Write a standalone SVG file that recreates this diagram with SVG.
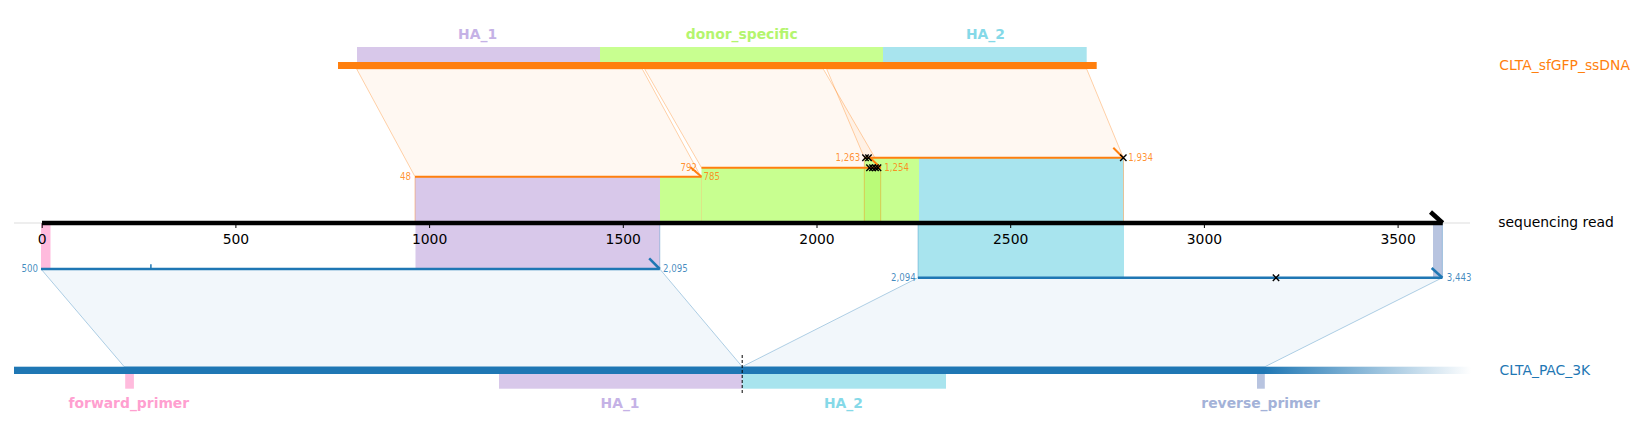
<svg xmlns="http://www.w3.org/2000/svg" width="1641" height="437" viewBox="0 0 1641 437">
<defs>
<linearGradient id="fade" x1="1264" y1="0" x2="1471" y2="0" gradientUnits="userSpaceOnUse">
<stop offset="0" stop-color="#1f77b4" stop-opacity="1"/>
<stop offset="1" stop-color="#1f77b4" stop-opacity="0"/>
</linearGradient>
<path id="xm" d="M-3.2,-3.2 L3.2,3.2 M-3.2,3.2 L3.2,-3.2" stroke="#000" stroke-width="1.4" fill="none"/>
</defs>
<style>
text{font-family:"DejaVu Sans","Liberation Sans",sans-serif}
.big{font-size:13.9px}
.feat{font-size:13.9px;font-weight:bold;text-anchor:middle}
.num{font-size:9.6px;font-stretch:condensed}
.onum{fill:#ff7f0e;fill-opacity:.85}
.bnum{fill:#1f77b4;fill-opacity:.85}
.opoly{fill:#ff7f0e;fill-opacity:.055;stroke:#ff7f0e;stroke-opacity:.35;stroke-width:1}
.bpoly{fill:#1f77b4;fill-opacity:.06;stroke:#1f77b4;stroke-opacity:.35;stroke-width:1}
.oedge{stroke:#ff7f0e;stroke-opacity:.4;stroke-width:1}
.bedge{stroke:#1f77b4;stroke-opacity:.35;stroke-width:1}
.oline{stroke:#ff7f0e;stroke-width:2;fill:none}
.bline{stroke:#1f77b4;stroke-width:2.5;fill:none}
.ha1{fill:#d8c8ea}.don{fill:#c8ff90}.ha2{fill:#a8e4ee}.fwd{fill:#ffbbdd}.rev{fill:#b8c4e0}
.tick{stroke:#000;stroke-width:1}
.tl{font-size:13.9px;text-anchor:middle;fill:#000}
</style>

<g id="connectors">
<polygon class="opoly" points="356.7,69 642.3,69 701,176.7 415,176.7"/>
<polygon class="opoly" points="644.7,69 823.3,69 880.7,167.7 701.5,167.7"/>
<polygon class="opoly" points="826.7,69 1086.7,69 1123.3,157.7 864.3,157.7"/>
<polygon class="bpoly" points="41,269 659.8,269 742.2,366.7 124.2,366.7"/>
<polygon class="bpoly" points="918,277.7 1442.4,277.7 1265,366.7 742.2,366.7"/>
</g>

<g id="donor-alignment-1">
<rect class="ha1" x="415" y="176.7" width="245" height="46.3"/>
<rect class="don" x="660" y="176.7" width="41.5" height="46.3"/>
<line class="oedge" x1="415" y1="176.7" x2="415" y2="223"/>
<line class="oedge" x1="701.5" y1="176.7" x2="701.5" y2="223"/>
</g>
<g id="donor-alignment-2">
<rect class="don" x="701.5" y="167.7" width="179.2" height="55.3"/>
</g>
<g id="donor-alignment-3">
<rect class="don" x="864.3" y="157.7" width="54.7" height="65.3"/>
<rect class="ha2" x="919" y="157.7" width="204.5" height="65.3"/>
<rect x="864.3" y="167.7" width="16.4" height="55.3" fill="#bafb78"/>
<line class="oedge" x1="864.3" y1="157.7" x2="864.3" y2="223"/>
<line class="oedge" x1="880.7" y1="167.7" x2="880.7" y2="223"/>
<line class="oedge" x1="1123.5" y1="157.7" x2="1123.5" y2="223"/>
</g>

<g id="target-alignment-A">
<rect class="fwd" x="41" y="223" width="9.5" height="46"/>
<rect class="ha1" x="415.5" y="223" width="244.3" height="46"/>
<line class="bedge" x1="659.8" y1="223" x2="659.8" y2="269"/>
</g>
<g id="target-alignment-B">
<rect class="ha2" x="918" y="223" width="206" height="54.7"/>
<rect class="rev" x="1433" y="223" width="9.4" height="54.7"/>
<line class="bedge" x1="918" y1="223" x2="918" y2="277.7"/>
<line class="bedge" x1="1442.4" y1="223" x2="1442.4" y2="277.7"/>
</g>

<g id="sequencing-read">
<line x1="14" y1="223" x2="1470" y2="223" stroke="#dddddd" stroke-width="1"/>
<line x1="42" y1="223" x2="1442.7" y2="223" stroke="#000" stroke-width="4.5"/>
<line x1="1430.5" y1="212" x2="1442.7" y2="223" stroke="#000" stroke-width="4.5"/>
<g class="ticks">
<line class="tick" x1="42.2" y1="223" x2="42.2" y2="228"/>
<line class="tick" x1="235.9" y1="223" x2="235.9" y2="228"/>
<line class="tick" x1="429.6" y1="223" x2="429.6" y2="228"/>
<line class="tick" x1="623.3" y1="223" x2="623.3" y2="228"/>
<line class="tick" x1="817" y1="223" x2="817" y2="228"/>
<line class="tick" x1="1010.7" y1="223" x2="1010.7" y2="228"/>
<line class="tick" x1="1204.4" y1="223" x2="1204.4" y2="228"/>
<line class="tick" x1="1398.1" y1="223" x2="1398.1" y2="228"/>
</g>
<text class="tl" x="42.2" y="244">0</text>
<text class="tl" x="235.9" y="244">500</text>
<text class="tl" x="429.6" y="244">1000</text>
<text class="tl" x="623.3" y="244">1500</text>
<text class="tl" x="817" y="244">2000</text>
<text class="tl" x="1010.7" y="244">2500</text>
<text class="tl" x="1204.4" y="244">3000</text>
<text class="tl" x="1398.1" y="244">3500</text>
<text class="big" x="1498.3" y="226.7" fill="#000">sequencing read</text>
</g>

<g id="donor-alignment-lines">
<line class="oline" x1="415" y1="176.7" x2="701.5" y2="176.7"/>
<line class="oline" x1="690.5" y1="167.2" x2="701.5" y2="176.7"/>
<line class="oline" x1="701.5" y1="167.7" x2="880.7" y2="167.7"/>
<line class="oline" x1="870.5" y1="158.2" x2="880.7" y2="167.7"/>
<line class="oline" x1="864.3" y1="157.7" x2="1123.3" y2="157.7"/>
<line class="oline" x1="1113.3" y1="147.7" x2="1123.3" y2="157.7"/>
<use href="#xm" x="865.5" y="157.7"/>
<use href="#xm" x="868.5" y="157.7"/>
<use href="#xm" x="869.5" y="167.7"/>
<use href="#xm" x="872.5" y="167.7"/>
<use href="#xm" x="875.5" y="167.7"/>
<use href="#xm" x="878" y="167.7"/>
<use href="#xm" x="1123.3" y="157.7"/>
<text class="num onum" x="411" y="180" text-anchor="end">48</text>
<text class="num onum" x="703.5" y="180">785</text>
<text class="num onum" x="697" y="170.6" text-anchor="end">792</text>
<text class="num onum" x="884.3" y="171">1,254</text>
<text class="num onum" x="860.3" y="161" text-anchor="end">1,263</text>
<text class="num onum" x="1128.3" y="161">1,934</text>
</g>

<g id="target-alignment-lines">
<line class="bline" x1="41" y1="269" x2="659.8" y2="269"/>
<line class="bline" x1="649.2" y1="258.3" x2="659.8" y2="269"/>
<line stroke="#1f77b4" stroke-width="1.5" x1="150.9" y1="264.3" x2="150.9" y2="269"/>
<line class="bline" x1="918" y1="277.7" x2="1442.4" y2="277.7"/>
<line class="bline" x1="1431.7" y1="268" x2="1442.4" y2="277.7"/>
<use href="#xm" x="1276" y="277.7"/>
<text class="num bnum" x="38" y="272.3" text-anchor="end">500</text>
<text class="num bnum" x="663" y="272.3">2,095</text>
<text class="num bnum" x="915.8" y="281" text-anchor="end">2,094</text>
<text class="num bnum" x="1446.7" y="281">3,443</text>
</g>

<g id="CLTA_sfGFP_ssDNA">
<rect class="ha1" x="357" y="47" width="243" height="16"/>
<rect class="don" x="600" y="47" width="283" height="16"/>
<rect class="ha2" x="883" y="47" width="203.7" height="16"/>
<rect x="338" y="62" width="758.7" height="7" fill="#ff7f0e"/>
<text class="feat" x="477.6" y="38.5" fill="#c5b2e6">HA_1</text>
<text class="feat" x="741.7" y="38.5" fill="#b4f56e">donor_specific</text>
<text class="feat" x="985.4" y="38.5" fill="#85d9e8">HA_2</text>
<text class="big" x="1499.3" y="70" fill="#ff7f0e">CLTA_sfGFP_ssDNA</text>
</g>

<g id="CLTA_PAC_3K">
<rect x="14" y="366.7" width="1250" height="7.3" fill="#1f77b4"/>
<rect x="1264" y="366.7" width="207" height="7.3" fill="url(#fade)"/>
<rect class="fwd" x="125.2" y="374" width="8.7" height="14.7"/>
<rect class="ha1" x="499" y="374" width="243.2" height="14.7"/>
<rect class="ha2" x="742.2" y="374" width="203.8" height="14.7"/>
<rect class="rev" x="1257" y="374" width="7.8" height="14.7"/>
<line x1="742.2" y1="355" x2="742.2" y2="395" stroke="#000" stroke-width="1" stroke-dasharray="3,2"/>
<text class="feat" x="128.8" y="408.3" fill="#ff9fd0">forward_primer</text>
<text class="feat" x="620" y="408.3" fill="#c5b2e6">HA_1</text>
<text class="feat" x="843.4" y="408.3" fill="#85d9e8">HA_2</text>
<text class="feat" x="1260.6" y="408.3" fill="#a3b2d8">reverse_primer</text>
<text class="big" x="1499.5" y="375" fill="#1f77b4">CLTA_PAC_3K</text>
</g>
</svg>
